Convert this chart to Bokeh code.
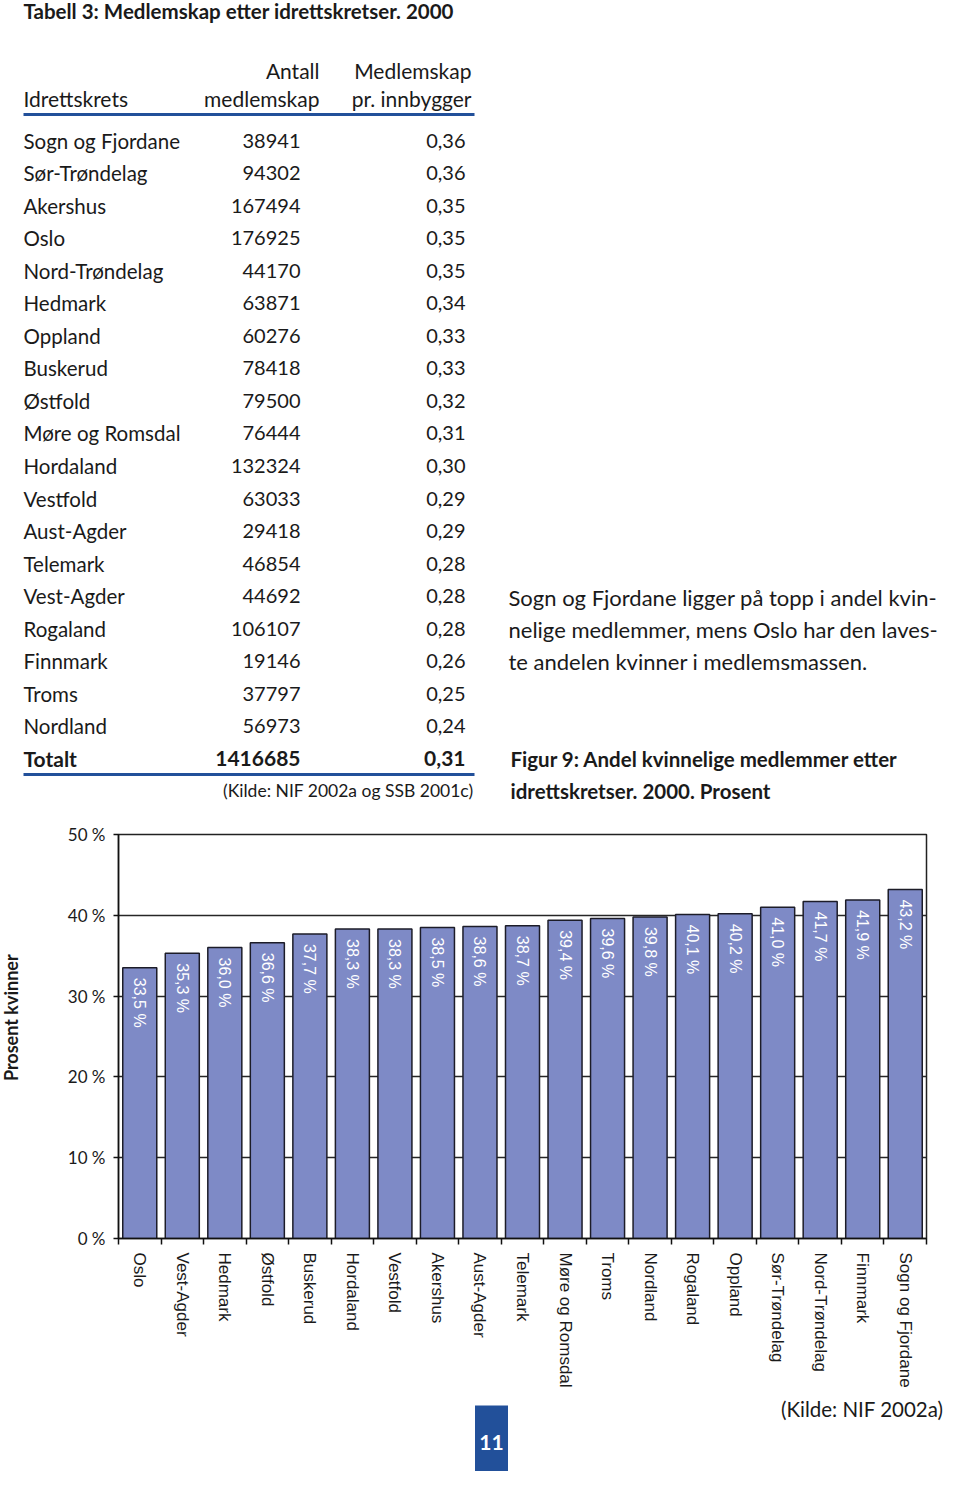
import math
from bokeh.plotting import figure
from bokeh.layouts import column, row
from bokeh.models import Range1d, FixedTicker
from bokeh.core.properties import value
from bokeh.embed import file_html
from bokeh.resources import INLINE

# ---------------- data ----------------
table_title = "Tabell 3: Medlemskap etter idrettskretser. 2000"
col_headers = ["Idrettskrets", "Antall", "medlemskap", "Medlemskap", "pr. innbygger"]
krets = ["Sogn og Fjordane", "Sør-Trøndelag", "Akershus", "Oslo", "Nord-Trøndelag",
         "Hedmark", "Oppland", "Buskerud", "Østfold", "Møre og Romsdal", "Hordaland",
         "Vestfold", "Aust-Agder", "Telemark", "Vest-Agder", "Rogaland", "Finnmark",
         "Troms", "Nordland"]
antall = [38941, 94302, 167494, 176925, 44170, 63871, 60276, 78418, 79500, 76444,
          132324, 63033, 29418, 46854, 44692, 106107, 19146, 37797, 56973]
per_innbygger = [0.36, 0.36, 0.35, 0.35, 0.35, 0.34, 0.33, 0.33, 0.32, 0.31, 0.30,
                 0.29, 0.29, 0.28, 0.28, 0.28, 0.26, 0.25, 0.24]
total_label = "Totalt"
total_antall = 1416685
total_per = 0.31
table_source = "(Kilde: NIF 2002a og SSB 2001c)"

paragraph = ["Sogn og Fjordane ligger på topp i andel kvin-",
             "nelige medlemmer, mens Oslo har den laves-",
             "te andelen kvinner i medlemsmassen."]
fig_caption = ["Figur 9: Andel kvinnelige medlemmer etter",
               "idrettskretser. 2000. Prosent"]

chart_krets = ["Oslo", "Vest-Agder", "Hedmark", "Østfold", "Buskerud", "Hordaland",
               "Vestfold", "Akershus", "Aust-Agder", "Telemark", "Møre og Romsdal",
               "Troms", "Nordland", "Rogaland", "Oppland", "Sør-Trøndelag",
               "Nord-Trøndelag", "Finnmark", "Sogn og Fjordane"]
andel_kvinner = [33.5, 35.3, 36.0, 36.6, 37.7, 38.3, 38.3, 38.5, 38.6, 38.7, 39.4,
                 39.6, 39.8, 40.1, 40.2, 41.0, 41.7, 41.9, 43.2]
y_ticks = [0, 10, 20, 30, 40, 50]
y_title = "Prosent kvinner"
chart_source = "(Kilde: NIF 2002a)"
page_number = "11"

# ---------------- styling ----------------
FONT = "Lato"
INK = "#1a1a1a"
BLUE = "#22509a"
BAR = "#7e8ac6"


def nb(v, d=2):
    return f"{v:.{d}f}".replace(".", ",")


def bl(y, size):
    # place an alphabetic baseline at y (compensates renderer shift)
    return y - 0.38 * size


def blank(width, height, x0, x1, y_top, y_bottom):
    f = figure(width=width, height=height,
               x_range=Range1d(x0, x1), y_range=Range1d(y_bottom, y_top),
               x_axis_location=None, y_axis_location=None,
               min_border=0, outline_line_color=None,
               toolbar_location=None, output_backend="svg",
               background_fill_color="white", border_fill_color="white")
    f.grid.visible = False
    return f


# ---------------- top: table + text ----------------
top = blank(944, 815, 0, 944, 0, 815)

top.text(x=[23], y=[bl(18.5, 20.5)], text=[table_title], text_font=value(FONT),
         text_font_style="bold", text_font_size="20.5px", text_color=INK,
         text_align="left", text_baseline="alphabetic")

top.text(x=[23, 319, 319, 471, 471], y=[bl(v, 21) for v in [106, 78, 106, 78, 106]],
         text=col_headers, text_font=value(FONT), text_font_size="21px",
         text_color=INK, text_align=["left", "right", "right", "right", "right"],
         text_baseline="alphabetic")

top.line(x=[23, 474], y=[114, 114], line_width=3, line_color=BLUE)

step = 32.55
row_y = [bl(148 + i * step, 21) for i in range(len(krets))]
top.text(x=[23] * len(krets), y=row_y, text=krets, text_font=value(FONT),
         text_font_size="20.5px", text_color=INK, text_align="left",
         text_baseline="alphabetic")
top.text(x=[300] * len(krets), y=row_y, text=[str(a) for a in antall],
         text_font=value(FONT), text_font_size="20px", text_color=INK,
         text_align="right", text_baseline="alphabetic")
top.text(x=[465] * len(krets), y=row_y, text=[nb(v) for v in per_innbygger],
         text_font=value(FONT), text_font_size="20px", text_color=INK,
         text_align="right", text_baseline="alphabetic")

ty = bl(148 + len(krets) * step, 21)
top.text(x=[23, 300, 465], y=[ty] * 3,
         text=[total_label, str(total_antall), nb(total_per)],
         text_font=value(FONT), text_font_style="bold", text_font_size="21px",
         text_color=INK, text_align=["left", "right", "right"],
         text_baseline="alphabetic")
top.line(x=[23, 474], y=[774, 774], line_width=3, line_color=BLUE)
top.text(x=[473], y=[bl(797, 17.5)], text=[table_source], text_font=value(FONT),
         text_font_size="17.5px", text_color=INK, text_align="right",
         text_baseline="alphabetic")

top.text(x=[508] * 3, y=[bl(v, 22) for v in [605, 637, 669]], text=paragraph,
         text_font=value(FONT), text_font_size="22px", text_color=INK,
         text_align="left", text_baseline="alphabetic")
top.text(x=[510] * 2, y=[bl(v, 20.5) for v in [766, 798]], text=fig_caption,
         text_font=value(FONT), text_font_style="bold", text_font_size="20.5px",
         text_color=INK, text_align="left", text_baseline="alphabetic")

# ---------------- y title strip ----------------
ylab = blank(38, 580, 0, 38, 815, 1395)
ylab.text(x=[10.5], y=[1169], text=[y_title], angle=math.pi / 2,
          text_font=value(FONT), text_font_style="bold", text_font_size="18px",
          text_color=INK, text_align="left", text_baseline="middle")

# ---------------- bar chart ----------------
n = len(chart_krets)
centers = [i + 0.5 for i in range(n)]
chart = figure(width=906, height=580, x_range=Range1d(0, n), y_range=Range1d(0, 50),
               min_border_left=80, min_border_right=18, min_border_top=19,
               min_border_bottom=157, toolbar_location=None, output_backend="svg",
               background_fill_color="white", border_fill_color="white")
chart.outline_line_color = "#222222"
chart.outline_line_width = 1.5

chart.xgrid.visible = False
chart.ygrid.ticker = FixedTicker(ticks=[10, 20, 30, 40])
chart.ygrid.grid_line_color = "#262626"
chart.ygrid.grid_line_width = 1.6

chart.vbar(x=centers, top=andel_kvinner, bottom=0, width=0.8,
           fill_color=BAR, line_color="#1c1c28", line_width=1.5)
chart.text(x=centers, y=andel_kvinner, text=[nb(v, 1) + " %" for v in andel_kvinner],
           angle=-math.pi / 2, y_offset=10, text_color="white",
           text_font=value("Liberation Sans"), text_font_size="16px",
           text_align="left", text_baseline="middle")

xa = chart.xaxis[0]
xa.ticker = FixedTicker(ticks=centers, minor_ticks=list(range(n + 1)))
xa.major_label_overrides = {c: k for c, k in zip(centers, chart_krets)}
xa.major_label_orientation = -math.pi / 2
xa.major_tick_out = 0
xa.major_tick_in = 0
xa.minor_tick_out = 6
xa.minor_tick_in = 0
xa.minor_tick_line_color = "#111111"
xa.minor_tick_line_width = 1.5
xa.axis_line_color = "#111111"
xa.axis_line_width = 1.5
xa.major_label_standoff = 8
xa.major_label_text_font = "Liberation Sans"
xa.major_label_text_font_size = "17px"
xa.major_label_text_color = INK

ya = chart.yaxis[0]
ya.ticker = FixedTicker(ticks=y_ticks, minor_ticks=[])
ya.major_label_overrides = {t: f"{t} %" for t in y_ticks}
ya.major_tick_out = 5
ya.major_tick_in = 0
ya.major_tick_line_color = "#111111"
ya.major_tick_line_width = 1.5
ya.axis_line_color = "#111111"
ya.axis_line_width = 1.5
ya.major_label_standoff = 8
ya.major_label_text_font = FONT
ya.major_label_text_font_size = "17px"
ya.major_label_text_color = INK

# ---------------- footer ----------------
foot = blank(944, 76, 0, 944, 1395, 1471)
foot.quad(left=[474.5], right=[507.5], top=[1405], bottom=[1471],
          fill_color=BLUE, line_color=None)
foot.text(x=[491], y=[bl(1450, 21)], text=[page_number], text_font=value(FONT),
          text_font_style="bold", text_font_size="21px", text_color="white",
          text_align="center", text_baseline="alphabetic")
foot.text(x=[943], y=[bl(1416, 20.5)], text=[chart_source], text_font=value(FONT),
          text_font_size="20.5px", text_color=INK, text_align="right",
          text_baseline="alphabetic")

layout = column(top, row(ylab, chart, spacing=0), foot, spacing=0)
open("out.html", "w").write(file_html(layout, INLINE))
